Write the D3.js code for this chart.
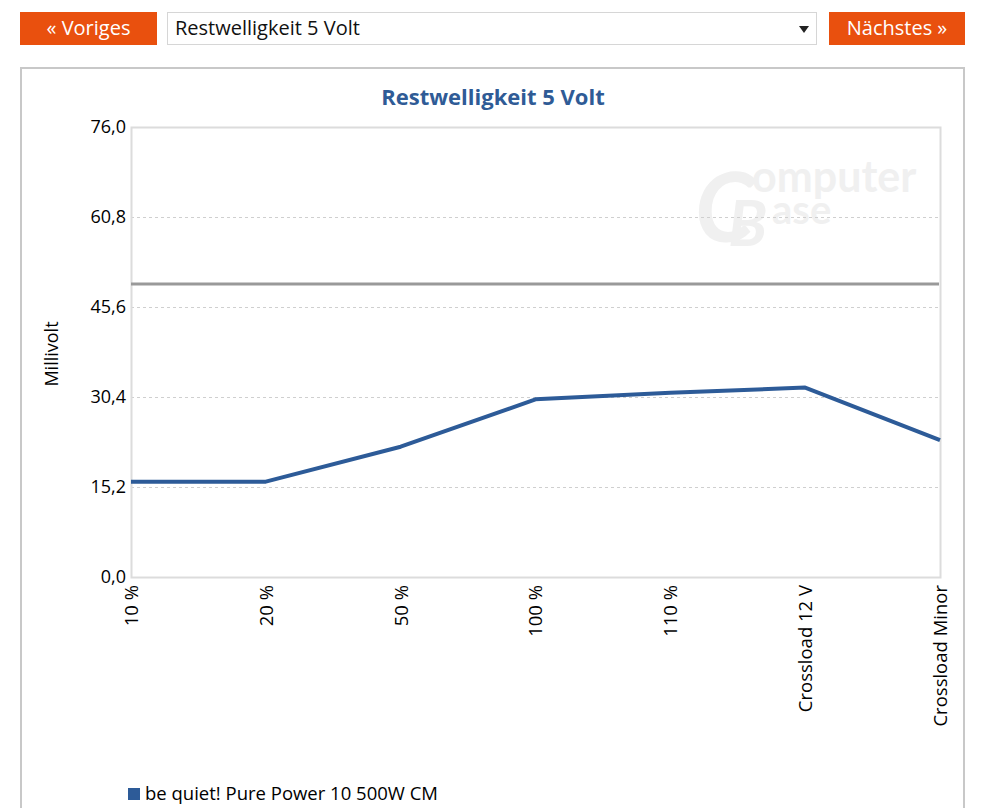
<!DOCTYPE html>
<html>
<head>
<meta charset="utf-8">
<script src="https://cdn.jsdelivr.net/npm/d3@7"></script>
<style>
  body { margin: 0; background: #fff; font-family: "Open Sans", sans-serif; }
  svg { display: block; }
</style>
</head>
<body>
<svg id="chart" width="994" height="808"></svg>
<script>
// chart data
var categories = ["10 %", "20 %", "50 %", "100 %", "110 %", "Crossload 12 V", "Crossload Minor"];
var seriesName = "be quiet! Pure Power 10 500W CM";
var seriesValues = [16.1, 16.1, 22.0, 30.0, 31.1, 32.0, 23.1];
var limitValue = 49.5;
var yTicks = [0, 15.2, 30.4, 45.6, 60.8, 76.0];
var chartTitle = "Restwelligkeit 5 Volt";
var yTitle = "Millivolt";

var svg = d3.select("#chart");
var orange = "#e9500e";
var blue = "#2d5b98";
var navFont = "'Open Sans', sans-serif";

// top navigation
svg.append("rect").attr("x", 20).attr("y", 12).attr("width", 137).attr("height", 33).attr("fill", orange);
svg.append("text").attr("x", 88.5).attr("y", 35).attr("text-anchor", "middle")
  .attr("fill", "#fff").style("font-size", "20px").style("font-family", navFont).text("« Voriges");

svg.append("rect").attr("x", 167.5).attr("y", 12.5).attr("width", 649).attr("height", 32)
  .attr("fill", "#fff").attr("stroke", "#d6d6d6");
svg.append("text").attr("x", 175).attr("y", 35).attr("fill", "#111")
  .style("font-size", "20px").style("font-family", navFont).text(chartTitle);
svg.append("path").attr("d", "M799,26 L809,26 L804,33 Z").attr("fill", "#222");

svg.append("rect").attr("x", 829).attr("y", 12).attr("width", 136).attr("height", 33).attr("fill", orange);
svg.append("text").attr("x", 897).attr("y", 35).attr("text-anchor", "middle")
  .attr("fill", "#fff").style("font-size", "20px").style("font-family", navFont).text("Nächstes »");

// chart box
svg.append("rect").attr("x", 21).attr("y", 68).attr("width", 943).attr("height", 760)
  .attr("fill", "#fff").attr("stroke", "#c8c8c8").attr("stroke-width", 2);

// title
svg.append("text").attr("x", 493).attr("y", 105).attr("text-anchor", "middle")
  .attr("fill", "#2f5b96").style("font-size", "22px").style("font-weight", "bold")
  .style("font-family", navFont).text(chartTitle);

// watermark, one text element with positioned parts
var wm = svg.append("text").attr("fill", "#f0f0f0")
  .style("font-family", "Lato, sans-serif").style("font-weight", "bold");
wm.append("tspan").attr("x", 695).attr("y", 242).style("font-size", "96px").style("font-style", "italic").text("C");
wm.append("tspan").attr("x", 752).attr("y", 192).style("font-size", "43px").text("omputer");
wm.append("tspan").attr("x", 728).attr("y", 246).style("font-size", "64px").style("font-style", "italic").text("B");
wm.append("tspan").attr("x", 772).attr("y", 224).style("font-size", "40px").text("ase");

var plotLeft = 131, plotRight = 940, plotTop = 127, plotBottom = 577;

var x = d3.scalePoint().domain(categories).range([plotLeft, plotRight]);
var y = d3.scaleLinear().domain([0, 76]).range([plotBottom, plotTop]);

// grid lines
svg.append("g").selectAll("line").data(yTicks.slice(1, 5)).enter().append("line")
  .attr("x1", plotLeft).attr("x2", plotRight)
  .attr("y1", function (d) { return Math.round(y(d)) + 0.5; })
  .attr("y2", function (d) { return Math.round(y(d)) + 0.5; })
  .attr("stroke", "#cfcfcf").attr("stroke-dasharray", "3,3");

// plot frame
svg.append("rect").attr("x", plotLeft + 0.5).attr("y", plotTop + 0.5)
  .attr("width", plotRight - plotLeft).attr("height", plotBottom - plotTop)
  .attr("fill", "none").attr("stroke", "#dcdcdc").attr("stroke-width", 2);

// y axis
var yAxis = svg.append("g").attr("transform", "translate(" + plotLeft + ",0)")
  .call(d3.axisLeft(y).tickValues(yTicks).tickSize(0).tickPadding(5)
    .tickFormat(function (d) { return d.toFixed(1).replace(".", ","); }));
yAxis.select(".domain").remove();
yAxis.selectAll("text").attr("fill", "#000").style("font-size", "18px").style("font-family", navFont);

svg.append("text").attr("transform", "translate(58," + 354 + ") rotate(-90)")
  .attr("text-anchor", "middle").attr("fill", "#000")
  .style("font-size", "18px").style("font-family", navFont).text(yTitle);

// x axis
var xAxis = svg.append("g").attr("transform", "translate(0," + plotBottom + ")")
  .call(d3.axisBottom(x).tickSize(0));
xAxis.select(".domain").remove();
xAxis.selectAll("text")
  .attr("transform", "rotate(-90)")
  .attr("x", -8).attr("y", 0).attr("dy", "0.35em")
  .attr("text-anchor", "end").attr("fill", "#000")
  .style("font-size", "18.5px").style("font-family", navFont);

// limit line
svg.append("line").attr("x1", plotLeft).attr("x2", plotRight - 1)
  .attr("y1", y(limitValue)).attr("y2", y(limitValue))
  .attr("stroke", "#999").attr("stroke-width", 3);

// series line
var line = d3.line()
  .x(function (d, i) { return x(categories[i]); })
  .y(function (d) { return y(d); });
svg.append("path").datum(seriesValues).attr("d", line)
  .attr("fill", "none").attr("stroke", blue).attr("stroke-width", 4)
  .attr("stroke-linejoin", "round");

// legend
svg.append("rect").attr("x", 128).attr("y", 788).attr("width", 12).attr("height", 12).attr("fill", blue);
svg.append("text").attr("x", 145).attr("y", 800).attr("fill", "#000")
  .style("font-size", "18.5px").style("font-family", navFont).text(seriesName);
</script>
</body>
</html>
